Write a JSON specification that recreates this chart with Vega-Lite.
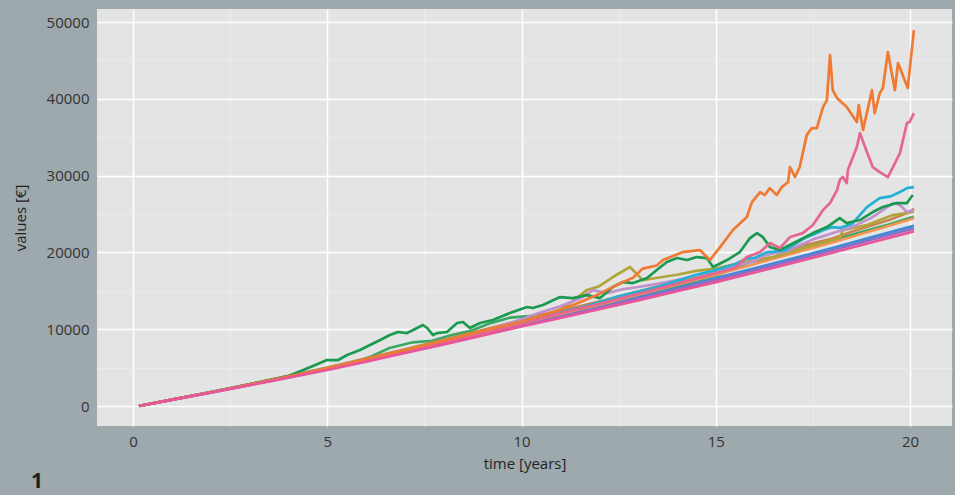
{
"$schema": "https://vega.github.io/schema/vega-lite/v6.json",
"width": 855, "height": 417,
"autosize": {"type": "none"},
"padding": {"left": 97, "top": 9, "right": 3, "bottom": 69},
"background": "#9ea9ad",
"config": {"view": {"fill": "#e4e4e4", "stroke": null}, "font": "Open Sans"},
"title": {"text": "1", "orient": "bottom", "anchor": "start", "frame": "bounds", "fontSize": 21, "fontWeight": "bold", "color": "#1e1e1e", "offset": 0, "dx": 18},
"datasets": {"runs": [
{"s":"blue","t":0.15,"v":0},{"s":"blue","t":1,"v":830},{"s":"blue","t":2,"v":1800},{"s":"blue","t":3,"v":2790},{"s":"blue","t":4,"v":3810},{"s":"blue","t":5,"v":4850},{"s":"blue","t":6,"v":5980},{"s":"blue","t":7,"v":7120},{"s":"blue","t":8,"v":8280},{"s":"blue","t":9,"v":9480},{"s":"blue","t":10,"v":10680},{"s":"blue","t":11,"v":11830},{"s":"blue","t":12,"v":13000},{"s":"blue","t":13,"v":14200},{"s":"blue","t":14,"v":15420},{"s":"blue","t":15,"v":16650},{"s":"blue","t":16,"v":17930},{"s":"blue","t":17,"v":19230},{"s":"blue","t":18,"v":20580},{"s":"blue","t":19,"v":21960},{"s":"blue","t":20,"v":23330},{"s":"blue","t":20.1,"v":23480},
{"s":"purple","t":0.15,"v":0},{"s":"purple","t":1,"v":820},{"s":"purple","t":2,"v":1770},{"s":"purple","t":3,"v":2750},{"s":"purple","t":4,"v":3760},{"s":"purple","t":5,"v":4770},{"s":"purple","t":6,"v":5890},{"s":"purple","t":7,"v":7020},{"s":"purple","t":8,"v":8150},{"s":"purple","t":9,"v":9330},{"s":"purple","t":10,"v":10520},{"s":"purple","t":11,"v":11660},{"s":"purple","t":12,"v":12810},{"s":"purple","t":13,"v":14000},{"s":"purple","t":14,"v":15200},{"s":"purple","t":15,"v":16420},{"s":"purple","t":16,"v":17680},{"s":"purple","t":17,"v":18960},{"s":"purple","t":18,"v":20290},{"s":"purple","t":19,"v":21650},{"s":"purple","t":20,"v":22980},{"s":"purple","t":20.1,"v":23120},
{"s":"green2","t":0.15,"v":0},{"s":"green2","t":1,"v":820},{"s":"green2","t":2,"v":1780},{"s":"green2","t":3,"v":2760},{"s":"green2","t":4,"v":3780},{"s":"green2","t":5,"v":4850},{"s":"green2","t":5.6,"v":5500},{"s":"green2","t":6.1,"v":6400},{"s":"green2","t":6.6,"v":7550},{"s":"green2","t":7.2,"v":8300},{"s":"green2","t":7.7,"v":8500},{"s":"green2","t":8.2,"v":9240},{"s":"green2","t":8.7,"v":9800},{"s":"green2","t":9.2,"v":10800},{"s":"green2","t":9.7,"v":11500},{"s":"green2","t":10.2,"v":11700},{"s":"green2","t":10.7,"v":12000},{"s":"green2","t":11.2,"v":12500},{"s":"green2","t":11.7,"v":13000},{"s":"green2","t":12.2,"v":13500},{"s":"green2","t":13,"v":14500},{"s":"green2","t":14,"v":15700},{"s":"green2","t":15,"v":17000},{"s":"green2","t":15.88,"v":18750},{"s":"green2","t":16.5,"v":19300},{"s":"green2","t":17.5,"v":21000},{"s":"green2","t":18.5,"v":22300},{"s":"green2","t":19,"v":23000},{"s":"green2","t":19.5,"v":23700},{"s":"green2","t":20,"v":24500},{"s":"green2","t":20.1,"v":24650},
{"s":"salmon","t":0.15,"v":0},{"s":"salmon","t":1,"v":830},{"s":"salmon","t":2,"v":1800},{"s":"salmon","t":3,"v":2780},{"s":"salmon","t":4,"v":3800},{"s":"salmon","t":5,"v":4850},{"s":"salmon","t":6,"v":5980},{"s":"salmon","t":7,"v":7130},{"s":"salmon","t":8,"v":8300},{"s":"salmon","t":9,"v":9500},{"s":"salmon","t":10,"v":10800},{"s":"salmon","t":11,"v":11980},{"s":"salmon","t":12,"v":13200},{"s":"salmon","t":13,"v":14500},{"s":"salmon","t":14,"v":15800},{"s":"salmon","t":15,"v":17100},{"s":"salmon","t":16,"v":18500},{"s":"salmon","t":17,"v":19900},{"s":"salmon","t":18,"v":21300},{"s":"salmon","t":19,"v":22800},{"s":"salmon","t":20,"v":24300},{"s":"salmon","t":20.1,"v":24480},
{"s":"tan","t":0.15,"v":0},{"s":"tan","t":1,"v":840},{"s":"tan","t":2,"v":1830},{"s":"tan","t":3,"v":2850},{"s":"tan","t":4,"v":3920},{"s":"tan","t":5,"v":5000},{"s":"tan","t":6,"v":6200},{"s":"tan","t":7,"v":7400},{"s":"tan","t":8,"v":8650},{"s":"tan","t":9,"v":9900},{"s":"tan","t":10,"v":11200},{"s":"tan","t":11,"v":12400},{"s":"tan","t":12,"v":13600},{"s":"tan","t":13,"v":14900},{"s":"tan","t":14,"v":16200},{"s":"tan","t":14.5,"v":16700},{"s":"tan","t":15,"v":17500},{"s":"tan","t":15.5,"v":18400},{"s":"tan","t":16,"v":18900},{"s":"tan","t":16.5,"v":19400},{"s":"tan","t":17,"v":20300},{"s":"tan","t":17.2,"v":20900},{"s":"tan","t":17.5,"v":21200},{"s":"tan","t":18,"v":21800},{"s":"tan","t":18.5,"v":22700},{"s":"tan","t":19,"v":23500},{"s":"tan","t":19.5,"v":24300},{"s":"tan","t":20,"v":25300},{"s":"tan","t":20.1,"v":25700},
{"s":"olive","t":0.15,"v":0},{"s":"olive","t":1,"v":830},{"s":"olive","t":2,"v":1800},{"s":"olive","t":3,"v":2800},{"s":"olive","t":4,"v":3850},{"s":"olive","t":5,"v":4950},{"s":"olive","t":6,"v":6050},{"s":"olive","t":7,"v":7250},{"s":"olive","t":8,"v":8500},{"s":"olive","t":9,"v":9700},{"s":"olive","t":10,"v":11000},{"s":"olive","t":10.5,"v":11700},{"s":"olive","t":11,"v":12600},{"s":"olive","t":11.3,"v":13600},{"s":"olive","t":11.68,"v":15100},{"s":"olive","t":12,"v":15600},{"s":"olive","t":12.35,"v":16800},{"s":"olive","t":12.79,"v":18100},{"s":"olive","t":13.12,"v":16400},{"s":"olive","t":13.5,"v":16700},{"s":"olive","t":14,"v":17100},{"s":"olive","t":14.5,"v":17600},{"s":"olive","t":15,"v":17900},{"s":"olive","t":15.5,"v":18500},{"s":"olive","t":16,"v":19000},{"s":"olive","t":16.47,"v":19400},{"s":"olive","t":17,"v":20200},{"s":"olive","t":17.6,"v":21000},{"s":"olive","t":18.19,"v":21870},{"s":"olive","t":18.27,"v":22900},{"s":"olive","t":18.89,"v":23570},{"s":"olive","t":19.56,"v":24870},{"s":"olive","t":19.92,"v":25130},{"s":"olive","t":20.1,"v":25300},
{"s":"lavender","t":0.15,"v":0},{"s":"lavender","t":1,"v":820},{"s":"lavender","t":2,"v":1790},{"s":"lavender","t":3,"v":2800},{"s":"lavender","t":4,"v":3850},{"s":"lavender","t":5,"v":4950},{"s":"lavender","t":6,"v":6100},{"s":"lavender","t":7,"v":7250},{"s":"lavender","t":8,"v":8450},{"s":"lavender","t":9,"v":9700},{"s":"lavender","t":10,"v":11300},{"s":"lavender","t":10.5,"v":12200},{"s":"lavender","t":11,"v":13000},{"s":"lavender","t":11.5,"v":14000},{"s":"lavender","t":11.84,"v":15100},{"s":"lavender","t":12.2,"v":14700},{"s":"lavender","t":12.6,"v":15200},{"s":"lavender","t":13,"v":15500},{"s":"lavender","t":13.5,"v":15900},{"s":"lavender","t":14,"v":16400},{"s":"lavender","t":14.5,"v":17000},{"s":"lavender","t":15,"v":17500},{"s":"lavender","t":15.5,"v":18200},{"s":"lavender","t":16,"v":18900},{"s":"lavender","t":16.2,"v":19500},{"s":"lavender","t":16.5,"v":19900},{"s":"lavender","t":16.8,"v":20100},{"s":"lavender","t":17,"v":20600},{"s":"lavender","t":17.5,"v":21700},{"s":"lavender","t":18,"v":22500},{"s":"lavender","t":18.5,"v":23300},{"s":"lavender","t":19,"v":24500},{"s":"lavender","t":19.3,"v":25500},{"s":"lavender","t":19.56,"v":26430},{"s":"lavender","t":19.74,"v":26170},{"s":"lavender","t":19.92,"v":25260},{"s":"lavender","t":20.1,"v":25520},
{"s":"cyan","t":0.15,"v":0},{"s":"cyan","t":1,"v":830},{"s":"cyan","t":2,"v":1810},{"s":"cyan","t":3,"v":2820},{"s":"cyan","t":4,"v":3870},{"s":"cyan","t":5,"v":4950},{"s":"cyan","t":6,"v":6080},{"s":"cyan","t":7,"v":7250},{"s":"cyan","t":8,"v":8450},{"s":"cyan","t":9,"v":9700},{"s":"cyan","t":10,"v":11000},{"s":"cyan","t":10.5,"v":11800},{"s":"cyan","t":11,"v":12250},{"s":"cyan","t":11.5,"v":12750},{"s":"cyan","t":12,"v":13500},{"s":"cyan","t":12.5,"v":14300},{"s":"cyan","t":13,"v":14900},{"s":"cyan","t":13.5,"v":15500},{"s":"cyan","t":14,"v":16300},{"s":"cyan","t":14.5,"v":17100},{"s":"cyan","t":15,"v":17700},{"s":"cyan","t":15.5,"v":18500},{"s":"cyan","t":15.8,"v":19200},{"s":"cyan","t":16,"v":19300},{"s":"cyan","t":16.3,"v":20000},{"s":"cyan","t":16.5,"v":20100},{"s":"cyan","t":16.8,"v":20300},{"s":"cyan","t":17,"v":21000},{"s":"cyan","t":17.3,"v":21900},{"s":"cyan","t":17.5,"v":22300},{"s":"cyan","t":17.8,"v":23000},{"s":"cyan","t":18,"v":23300},{"s":"cyan","t":18.2,"v":23200},{"s":"cyan","t":18.5,"v":23700},{"s":"cyan","t":18.89,"v":25900},{"s":"cyan","t":19.22,"v":27080},{"s":"cyan","t":19.5,"v":27300},{"s":"cyan","t":19.74,"v":27860},{"s":"cyan","t":19.92,"v":28380},{"s":"cyan","t":20.1,"v":28510},
{"s":"green","t":0.15,"v":0},{"s":"green","t":1,"v":830},{"s":"green","t":2,"v":1800},{"s":"green","t":3,"v":2820},{"s":"green","t":4,"v":3900},{"s":"green","t":4.63,"v":5200},{"s":"green","t":4.99,"v":5990},{"s":"green","t":5.28,"v":5990},{"s":"green","t":5.51,"v":6640},{"s":"green","t":5.84,"v":7290},{"s":"green","t":6.1,"v":7940},{"s":"green","t":6.36,"v":8590},{"s":"green","t":6.61,"v":9240},{"s":"green","t":6.82,"v":9640},{"s":"green","t":7.05,"v":9500},{"s":"green","t":7.21,"v":9900},{"s":"green","t":7.46,"v":10550},{"s":"green","t":7.57,"v":10160},{"s":"green","t":7.72,"v":9240},{"s":"green","t":7.82,"v":9500},{"s":"green","t":8.08,"v":9640},{"s":"green","t":8.34,"v":10810},{"s":"green","t":8.49,"v":10940},{"s":"green","t":8.67,"v":10160},{"s":"green","t":8.93,"v":10810},{"s":"green","t":9.26,"v":11200},{"s":"green","t":9.7,"v":12110},{"s":"green","t":10.14,"v":12890},{"s":"green","t":10.29,"v":12760},{"s":"green","t":10.55,"v":13150},{"s":"green","t":10.99,"v":14190},{"s":"green","t":11.32,"v":14060},{"s":"green","t":11.68,"v":14450},{"s":"green","t":12.02,"v":14060},{"s":"green","t":12.35,"v":15490},{"s":"green","t":12.61,"v":16140},{"s":"green","t":12.87,"v":16010},{"s":"green","t":13.23,"v":16670},{"s":"green","t":13.48,"v":17710},{"s":"green","t":13.74,"v":18750},{"s":"green","t":14,"v":19270},{"s":"green","t":14.26,"v":19010},{"s":"green","t":14.51,"v":19400},{"s":"green","t":14.77,"v":19270},{"s":"green","t":14.93,"v":18100},{"s":"green","t":15.29,"v":19010},{"s":"green","t":15.62,"v":20050},{"s":"green","t":15.88,"v":21870},{"s":"green","t":16.06,"v":22520},{"s":"green","t":16.21,"v":22000},{"s":"green","t":16.39,"v":20700},{"s":"green","t":16.65,"v":20310},{"s":"green","t":17.16,"v":21610},{"s":"green","t":17.5,"v":22520},{"s":"green","t":17.86,"v":23310},{"s":"green","t":18.19,"v":24480},{"s":"green","t":18.37,"v":23830},{"s":"green","t":18.71,"v":24220},{"s":"green","t":19.04,"v":25260},{"s":"green","t":19.3,"v":25910},{"s":"green","t":19.66,"v":26430},{"s":"green","t":19.92,"v":26430},{"s":"green","t":20.07,"v":27470},
{"s":"pink","t":0.15,"v":0},{"s":"pink","t":1,"v":820},{"s":"pink","t":2,"v":1790},{"s":"pink","t":3,"v":2780},{"s":"pink","t":4,"v":3800},{"s":"pink","t":5,"v":4850},{"s":"pink","t":6,"v":5980},{"s":"pink","t":7,"v":7150},{"s":"pink","t":8,"v":8300},{"s":"pink","t":9,"v":9500},{"s":"pink","t":10,"v":10800},{"s":"pink","t":11,"v":12100},{"s":"pink","t":12,"v":13300},{"s":"pink","t":13,"v":14600},{"s":"pink","t":14,"v":15900},{"s":"pink","t":15,"v":17300},{"s":"pink","t":15.5,"v":18000},{"s":"pink","t":15.8,"v":19400},{"s":"pink","t":16.14,"v":20050},{"s":"pink","t":16.39,"v":21220},{"s":"pink","t":16.65,"v":20570},{"s":"pink","t":16.91,"v":22000},{"s":"pink","t":17.24,"v":22520},{"s":"pink","t":17.5,"v":23570},{"s":"pink","t":17.76,"v":25520},{"s":"pink","t":17.94,"v":26430},{"s":"pink","t":18.12,"v":28120},{"s":"pink","t":18.19,"v":29430},{"s":"pink","t":18.27,"v":29820},{"s":"pink","t":18.37,"v":29030},{"s":"pink","t":18.4,"v":30730},{"s":"pink","t":18.5,"v":32030},{"s":"pink","t":18.63,"v":33720},{"s":"pink","t":18.71,"v":35540},{"s":"pink","t":18.89,"v":33070},{"s":"pink","t":19.04,"v":31120},{"s":"pink","t":19.22,"v":30470},{"s":"pink","t":19.43,"v":29820},{"s":"pink","t":19.56,"v":31120},{"s":"pink","t":19.74,"v":32940},{"s":"pink","t":19.92,"v":36850},{"s":"pink","t":19.99,"v":36980},{"s":"pink","t":20.1,"v":38150},
{"s":"orange","t":0.15,"v":0},{"s":"orange","t":1,"v":830},{"s":"orange","t":2,"v":1800},{"s":"orange","t":3,"v":2800},{"s":"orange","t":4,"v":3850},{"s":"orange","t":5,"v":4950},{"s":"orange","t":6,"v":6100},{"s":"orange","t":7,"v":7300},{"s":"orange","t":8,"v":8500},{"s":"orange","t":9,"v":9800},{"s":"orange","t":10,"v":11000},{"s":"orange","t":10.5,"v":11800},{"s":"orange","t":11,"v":12500},{"s":"orange","t":11.5,"v":13500},{"s":"orange","t":12,"v":14600},{"s":"orange","t":12.5,"v":15900},{"s":"orange","t":12.87,"v":16700},{"s":"orange","t":13.12,"v":17900},{"s":"orange","t":13.48,"v":18300},{"s":"orange","t":13.64,"v":19000},{"s":"orange","t":14.15,"v":20050},{"s":"orange","t":14.59,"v":20310},{"s":"orange","t":14.85,"v":19010},{"s":"orange","t":15.11,"v":20700},{"s":"orange","t":15.44,"v":22920},{"s":"orange","t":15.8,"v":24610},{"s":"orange","t":15.93,"v":26560},{"s":"orange","t":16.14,"v":27860},{"s":"orange","t":16.26,"v":27470},{"s":"orange","t":16.39,"v":28380},{"s":"orange","t":16.57,"v":27470},{"s":"orange","t":16.7,"v":28510},{"s":"orange","t":16.86,"v":29170},{"s":"orange","t":16.91,"v":31120},{"s":"orange","t":17.04,"v":29820},{"s":"orange","t":17.16,"v":31120},{"s":"orange","t":17.34,"v":35280},{"s":"orange","t":17.47,"v":36200},{"s":"orange","t":17.6,"v":36200},{"s":"orange","t":17.76,"v":38930},{"s":"orange","t":17.86,"v":39840},{"s":"orange","t":17.94,"v":45700},{"s":"orange","t":18.01,"v":41140},{"s":"orange","t":18.12,"v":40100},{"s":"orange","t":18.37,"v":38930},{"s":"orange","t":18.63,"v":36980},{"s":"orange","t":18.68,"v":39190},{"s":"orange","t":18.79,"v":35940},{"s":"orange","t":19.02,"v":41140},{"s":"orange","t":19.09,"v":38150},{"s":"orange","t":19.22,"v":40750},{"s":"orange","t":19.3,"v":41400},{"s":"orange","t":19.43,"v":46090},{"s":"orange","t":19.61,"v":41140},{"s":"orange","t":19.69,"v":44660},{"s":"orange","t":19.94,"v":41400},{"s":"orange","t":20.1,"v":48960},
{"s":"magenta","t":0.15,"v":0},{"s":"magenta","t":1,"v":800},{"s":"magenta","t":2,"v":1740},{"s":"magenta","t":3,"v":2700},{"s":"magenta","t":4,"v":3690},{"s":"magenta","t":5,"v":4690},{"s":"magenta","t":6,"v":5790},{"s":"magenta","t":7,"v":6900},{"s":"magenta","t":8,"v":8020},{"s":"magenta","t":9,"v":9180},{"s":"magenta","t":10,"v":10350},{"s":"magenta","t":11,"v":11470},{"s":"magenta","t":12,"v":12600},{"s":"magenta","t":13,"v":13760},{"s":"magenta","t":14,"v":14940},{"s":"magenta","t":15,"v":16140},{"s":"magenta","t":16,"v":17380},{"s":"magenta","t":17,"v":18650},{"s":"magenta","t":18,"v":19960},{"s":"magenta","t":19,"v":21300},{"s":"magenta","t":20,"v":22620},{"s":"magenta","t":20.1,"v":22760}
]},
"data": {"name": "runs"},
"mark": {"type": "line", "strokeWidth": 2.7, "strokeJoin": "round", "clip": true},
"encoding": {
"x": {"field": "t", "type": "quantitative", "scale": {"domain": [-0.93, 21.08], "nice": false, "zero": false},
 "axis": {"title": "time [years]", "values": [0, 2.5, 5, 7.5, 10, 12.5, 15, 17.5, 20],
  "labelExpr": "datum.value % 5 === 0 ? format(datum.value, 'd') : ''",
  "gridColor": {"condition": {"test": "datum.value % 5 === 0", "value": "#ffffff"}, "value": "#ececec"},
  "gridWidth": {"condition": {"test": "datum.value % 5 === 0", "value": 1.5}, "value": 0.8},
  "ticks": false, "domain": false, "labelPadding": 8, "labelFontSize": 15, "labelColor": "#333333",
  "titleFontSize": 15, "titleFontWeight": "normal", "titleColor": "#222222", "titlePadding": 7, "labelFlush": false}},
"y": {"field": "v", "type": "quantitative", "scale": {"domain": [-2600, 51700], "nice": false, "zero": false},
 "axis": {"title": "values [€]", "values": [0, 5000, 10000, 15000, 20000, 25000, 30000, 35000, 40000, 45000, 50000],
  "labelExpr": "datum.value % 10000 === 0 ? format(datum.value, 'd') : ''",
  "gridColor": {"condition": {"test": "datum.value % 10000 === 0", "value": "#ffffff"}, "value": "#ececec"},
  "gridWidth": {"condition": {"test": "datum.value % 10000 === 0", "value": 1.5}, "value": 0.8},
  "ticks": false, "domain": false, "labelPadding": 8, "labelFontSize": 15, "labelColor": "#333333",
  "titleFontSize": 15, "titleFontWeight": "normal", "titleColor": "#222222", "titlePadding": 18, "labelFlush": false}},
"color": {"field": "s", "type": "nominal", "legend": null,
 "scale": {"domain": ["blue", "purple", "green2", "salmon", "tan", "olive", "lavender", "cyan", "green", "pink", "orange", "magenta"],
  "range": ["#3c8ad8", "#8b6fc6", "#3aa765", "#f39455", "#c58850", "#b3a43a", "#c090cf", "#22b0d4", "#1a9a50", "#e5668f", "#f07a32", "#e8559a"]}}
}
}
